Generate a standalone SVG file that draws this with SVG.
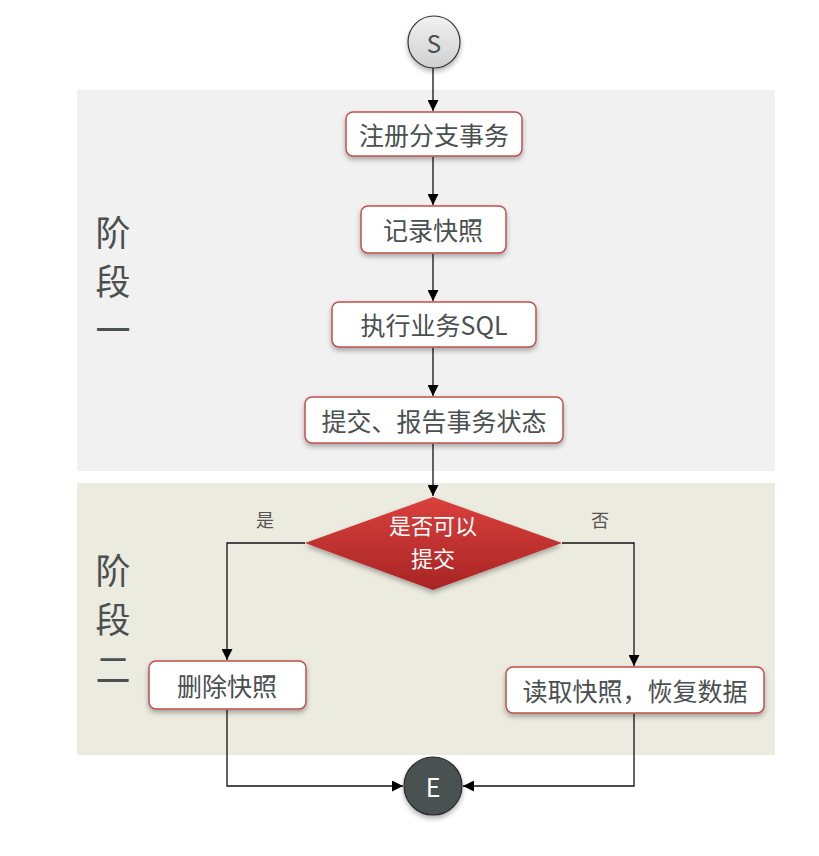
<svg xmlns="http://www.w3.org/2000/svg" width="819" height="856" viewBox="0 0 819 856">
<style>
.box{fill:#fff;stroke:#c0504d;stroke-width:1.5;filter:url(#sh)}
.t{font-family:"Noto Sans CJK SC","Liberation Sans",sans-serif;font-size:25px;fill:#4a4f4f;text-anchor:middle;dominant-baseline:central}
.stage{font-family:"Noto Sans CJK SC",sans-serif;font-size:35px;fill:#4a4f4f;text-anchor:middle}
.lbl{font-family:"Noto Sans CJK SC",sans-serif;font-size:18px;fill:#555;text-anchor:middle}
.ln{fill:none;stroke:#111;stroke-width:1.3}
</style>
<defs>
<filter id="sh" x="-20%" y="-30%" width="140%" height="170%"><feDropShadow dx="0" dy="3" stdDeviation="2.5" flood-color="#000" flood-opacity="0.3"/></filter>
<linearGradient id="gs" x1="0" y1="0" x2="0" y2="1"><stop offset="0" stop-color="#f2f2f2"/><stop offset="1" stop-color="#cfcfcf"/></linearGradient>
<linearGradient id="gd" x1="0" y1="0" x2="0" y2="1"><stop offset="0" stop-color="#d9403d"/><stop offset="1" stop-color="#a82424"/></linearGradient>
<marker id="ar" viewBox="0 0 10 10" refX="10" refY="5" markerWidth="11" markerHeight="11" markerUnits="userSpaceOnUse" orient="auto"><path d="M0,0L10,5L0,10z" fill="#000"/></marker>
</defs>
<rect x="77" y="90" width="698" height="381" fill="#f1f1f1"/>
<rect x="77" y="483" width="698" height="272" fill="#ecebe0"/>
<text class="stage" x="113" y="246">阶</text>
<text class="stage" x="113" y="295">段</text>
<text class="stage" x="113" y="343">一</text>
<text class="stage" x="113" y="584">阶</text>
<text class="stage" x="113" y="633">段</text>
<text class="stage" x="113" y="683">二</text>
<g id="connectors">
<path class="ln" d="M433,67V111" marker-end="url(#ar)"/>
<path class="ln" d="M433,157V205" marker-end="url(#ar)"/>
<path class="ln" d="M433,254V301" marker-end="url(#ar)"/>
<path class="ln" d="M433,348V396" marker-end="url(#ar)"/>
<path class="ln" d="M433,444V496" marker-end="url(#ar)"/>
<path class="ln" d="M305,543H227V660" marker-end="url(#ar)"/>
<path class="ln" d="M562,543H634V666" marker-end="url(#ar)"/>
<path class="ln" d="M227,710V786H403" marker-end="url(#ar)"/>
<path class="ln" d="M634,714V786H463" marker-end="url(#ar)"/>
<text class="lbl" x="265" y="527">是</text>
<text class="lbl" x="600" y="527">否</text>
</g>
<g id="start">
<circle cx="434" cy="42" r="26" fill="url(#gs)" stroke="#333" stroke-width="1.2" filter="url(#sh)"/>
<text class="t" x="434" y="42" style="font-size:24px" font-family="Liberation Sans,sans-serif">S</text>
</g>
<g id="n1"><rect class="box" x="346" y="112" width="176" height="44" rx="7"/><text class="t" x="434" y="134">注册分支事务</text></g>
<g id="n2"><rect class="box" x="361" y="206" width="145" height="47" rx="7"/><text class="t" x="433" y="229">记录快照</text></g>
<g id="n3"><rect class="box" x="332" y="302" width="204" height="45" rx="7"/><text class="t" x="434" y="324">执行业务SQL</text></g>
<g id="n4"><rect class="box" x="305" y="397" width="258" height="46" rx="7"/><text class="t" x="434" y="420">提交、报告事务状态</text></g>
<g id="decision">
<path d="M433,497L562,543L433,590L305,543Z" fill="url(#gd)" filter="url(#sh)"/>
<text class="t" x="433" y="524" style="fill:#fff;font-size:22px">是否可以</text>
<text class="t" x="433" y="557" style="fill:#fff;font-size:22px">提交</text>
</g>
<g id="n5"><rect class="box" x="149" y="661" width="157" height="48" rx="7"/><text class="t" x="227" y="685">删除快照</text></g>
<g id="n6"><rect class="box" x="506" y="667" width="258" height="46" rx="7"/><text class="t" x="635" y="690">读取快照，恢复数据</text></g>
<g id="end">
<circle cx="433" cy="786" r="29" fill="#4a5151" stroke="#2a2a2a" stroke-width="1.2" filter="url(#sh)"/>
<text class="t" x="433" y="786" style="fill:#fff;font-size:25px" font-family="Liberation Sans,sans-serif">E</text>
</g>
</svg>
